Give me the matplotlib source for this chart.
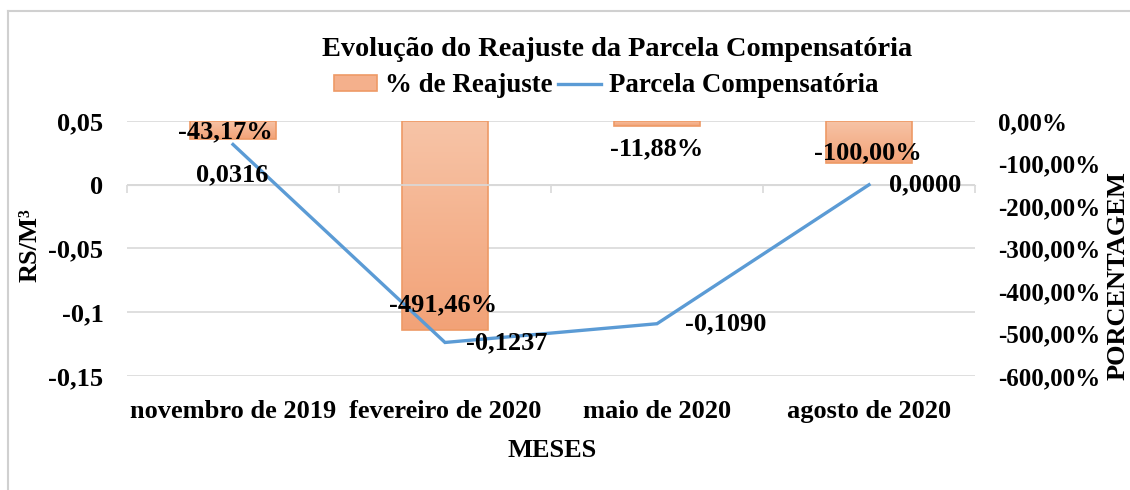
import matplotlib
matplotlib.use("Agg")
import matplotlib.pyplot as plt
import numpy as np
from matplotlib.lines import Line2D
from matplotlib.patches import Patch
from matplotlib.colors import LinearSegmentedColormap

# ---- data ----
categories = ["novembro de 2019", "fevereiro de 2020", "maio de 2020", "agosto de 2020"]
reajuste_pct = [-43.17, -491.46, -11.88, -100.00]          # % de Reajuste (right axis)
parcela = [0.0316, -0.1237, -0.1090, 0.0000]               # Parcela Compensatória (left axis, R$/M³)
left_ticks = [0.05, 0.0, -0.05, -0.1, -0.15]
left_tick_labels = ["0,05", "0", "-0,05", "-0,1", "-0,15"]
right_ticks = [0, -100, -200, -300, -400, -500, -600]
right_tick_labels = ["0,00%", "-100,00%", "-200,00%", "-300,00%", "-400,00%", "-500,00%", "-600,00%"]

# ---- layout (pixel offsets for data labels) ----
bar_label_off = [(-8, 8), (-2, 25), (0, -23), (-1, 11)]
line_label_off = [(-1, -30), (62, 0), (69, 0), (56, 0)]

FONT = "Liberation Serif"
plt.rcParams["font.family"] = [FONT, "DejaVu Serif"]
plt.rcParams["font.weight"] = "bold"

W, H = 1130, 490
fig = plt.figure(figsize=(W / 100, H / 100), dpi=100)
fig.patch.set_facecolor("white")

L, R, T, B = 127, 975, 121, 376
rect = [L / W, 1 - B / H, (R - L) / W, (B - T) / H]
ax = fig.add_axes(rect)                 # line scale (left axis), bottom layer
axb = fig.add_axes(rect, zorder=ax.get_zorder() + 1)   # bar scale (right axis), top layer
axb.patch.set_visible(False)

n = len(categories)
x = np.arange(n)
grid_c = "#D9D9D9"

# primary (line scale) : grid, zero axis with boundary ticks
ax.set_ylim(-0.15, 0.05)
ax.set_xlim(-0.5, n - 0.5)
ax.set_yticks(left_ticks)
ax.set_yticklabels(left_tick_labels)
ax.yaxis.grid(True, color=grid_c, lw=1.2)
ax.set_axisbelow(True)
for s in ax.spines.values():
    s.set_visible(False)
ax.spines["bottom"].set_visible(True)
ax.spines["bottom"].set_position(("data", 0))
ax.spines["bottom"].set_color(grid_c)
ax.set_xticks(np.arange(-0.5, n, 1.0))
ax.tick_params(axis="x", length=6, width=1.2, color=grid_c, labelbottom=False, direction="out")
ax.tick_params(axis="y", length=0, pad=17, labelsize=19)

# bars on overlay axes (percent scale)
axb.yaxis.tick_right()
axb.set_ylim(-600, 0)
axb.set_xlim(-0.5, n - 0.5)
axb.set_yticks(right_ticks)
axb.set_yticklabels(right_tick_labels)
axb.tick_params(axis="y", length=0, pad=16.5, labelsize=18)
for s in axb.spines.values():
    s.set_visible(False)

bars = axb.bar(x, reajuste_pct, width=0.405, color="none", edgecolor="#EE9A66",
               linewidth=1.2, zorder=2)
cmap = LinearSegmentedColormap.from_list("g", ["#F7C4A7", "#F2A277"])
grad = np.linspace(0, 1, 256).reshape(-1, 1)
for b in bars:
    x0, y0 = b.get_x(), b.get_y()
    w, h = b.get_width(), b.get_height()
    im = axb.imshow(grad, cmap=cmap, aspect="auto",
                    extent=[x0, x0 + w, y0 + h, y0], origin="upper", zorder=1.5)
    im.set_clip_path(b)
axb.set_xlim(-0.5, n - 0.5)
axb.set_ylim(-600, 0)

# zero axis line over bars (line scale)
axb.plot([-0.5, n - 0.5], [0, 0], transform=ax.transData,
         color=grid_c, lw=1.2, zorder=2.5)

# line drawn in top axes with primary transform
axb.plot(x, parcela, transform=ax.transData, color="#5B9BD5", lw=2.4, zorder=3,
         solid_joinstyle="miter")

# x tick labels
axb.set_xticks(x)
axb.set_xticklabels(categories, fontsize=19)
axb.tick_params(axis="x", length=0, pad=17)

# data labels
for i, v in enumerate(reajuste_pct):
    txt = f"{v:.2f}%".replace(".", ",")
    axb.annotate(txt, (x[i], v), xytext=bar_label_off[i], textcoords="offset pixels",
                 ha="center", va="center", fontsize=19, zorder=4)
for i, v in enumerate(parcela):
    txt = f"{v:.4f}".replace(".", ",")
    if txt.startswith("-0,0000"):
        txt = "0,0000"
    axb.annotate(txt, (x[i], v), xycoords=ax.transData, xytext=line_label_off[i],
                 textcoords="offset pixels", ha="center", va="center", fontsize=19, zorder=4)

# axis titles
fig.text(30 / W, 1 - 245 / H, "RS/M³", rotation=90, ha="center", va="center", fontsize=19)
fig.text(1118 / W, 1 - 276 / H, "PORCENTAGEM", rotation=90, ha="center", va="center", fontsize=19)
fig.text(552 / W, 1 - 450 / H, "MESES", ha="center", va="center", fontsize=19)

# chart title
fig.text(617 / W, 1 - 50 / H, "Evolução do Reajuste da Parcela Compensatória",
         ha="center", va="center", fontsize=20.4)

# legend
handles = [Patch(facecolor="#F4B08C", edgecolor="#EE9A66", lw=1.2),
           Line2D([0], [0], color="#5B9BD5", lw=2.4)]
fig.legend(handles, ["% de Reajuste", "Parcela Compensatória"], loc="center",
           bbox_to_anchor=(606 / W, 1 - 86 / H), ncol=2, frameon=False, fontsize=19.4,
           handlelength=1.6, handletextpad=0.3, columnspacing=0.2, handleheight=0.5)

# outer frame (top and left edges visible)
fig.add_artist(Line2D([8 / W, 1], [1 - 11 / H, 1 - 11 / H], color="#D0D0D0", lw=1.5,
                      transform=fig.transFigure))
fig.add_artist(Line2D([8 / W, 8 / W], [0, 1 - 11 / H], color="#D0D0D0", lw=1.5,
                      transform=fig.transFigure))

fig.savefig("out.png", dpi=100, facecolor="white")
